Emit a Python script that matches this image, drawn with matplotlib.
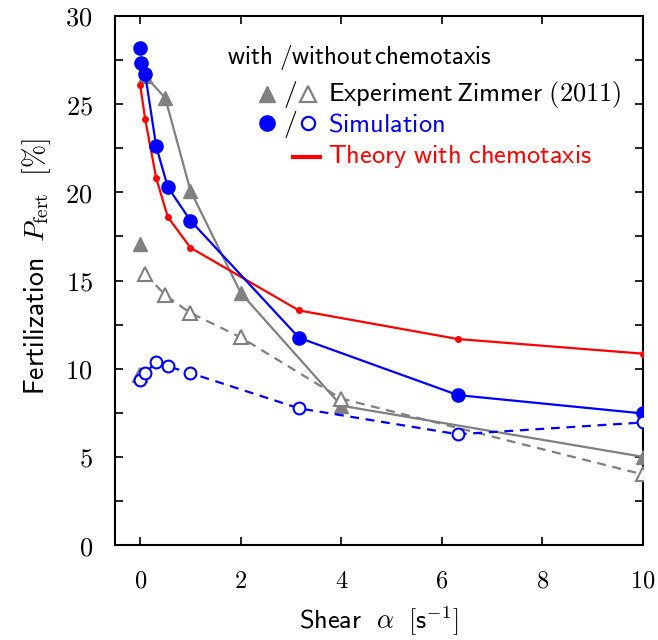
import matplotlib
matplotlib.use("Agg")
import matplotlib.pyplot as plt
import numpy as np
from matplotlib.ticker import MultipleLocator, FuncFormatter

plt.rcParams['mathtext.fontset'] = 'cm'
plt.rcParams['font.family'] = ['DejaVu Sans']

# Experiment Zimmer (2011), with chemotaxis (first point isolated, at zero shear)
exp_chem_x = [0.0, 0.1, 0.5, 1.0, 2.0, 4.0, 10.0]
exp_chem_y = [17.05, 26.6, 25.35, 20.1, 14.3, 7.9, 5.0]
# Experiment, without chemotaxis
exp_nochem_x = [0.0, 0.1, 0.5, 1.0, 2.0, 4.0, 10.0]
exp_nochem_y = [9.66, 15.38, 14.17, 13.16, 11.78, 8.3, 4.0]
# Simulation with chemotaxis
sim_chem_x = [0.0, 0.01, 0.1, 0.32, 0.55, 1.0, 3.16, 6.32, 10.0]
sim_chem_y = [28.2, 27.35, 26.7, 22.6, 20.3, 18.4, 11.75, 8.5, 7.46]
# Simulation without chemotaxis
sim_nochem_x = [0.0, 0.1, 0.32, 0.55, 1.0, 3.16, 6.32, 10.0]
sim_nochem_y = [9.38, 9.75, 10.38, 10.13, 9.75, 7.75, 6.28, 6.95]
# Theory with chemotaxis
theory_x = [0.0, 0.1, 0.32, 0.55, 1.0, 3.16, 6.32, 10.0]
theory_y = [26.1, 24.15, 20.8, 18.6, 16.86, 13.3, 11.68, 10.85]

GRAY = '#808080'
BLUE = '#0000ff'
RED = '#ff0000'

L, R, T, B = 115, 643, 16, 545
fig = plt.figure(figsize=(6.58, 6.40), dpi=100)
ax = fig.add_axes([L/658, 1-B/640, (R-L)/658, (B-T)/640])

lw = 1.6
# experiment with chemotaxis: line from second point onward
ax.plot(exp_chem_x[1:], exp_chem_y[1:], '-', color=GRAY, lw=lw, zorder=2)
ax.plot(exp_chem_x, exp_chem_y, '^', color=GRAY, ms=10, mec=GRAY, lw=0, zorder=3)
# experiment without chemotaxis
ax.plot(exp_nochem_x[1:], exp_nochem_y[1:], '--', color=GRAY, lw=lw, dashes=(4, 3), zorder=2)
ax.plot(exp_nochem_x, exp_nochem_y, '^', color=GRAY, mfc='white', mec=GRAY, mew=1.5, ms=10, lw=0, zorder=3)
# theory
ax.plot(theory_x, theory_y, '-', color=RED, lw=lw, marker='o', ms=4, zorder=4)
# simulation with chemotaxis
ax.plot(sim_chem_x[2:], sim_chem_y[2:], '-', color=BLUE, lw=lw, zorder=5)
ax.plot(sim_chem_x, sim_chem_y, 'o', color=BLUE, ms=9.5, lw=0, zorder=6)
# simulation without chemotaxis
ax.plot(sim_nochem_x[1:], sim_nochem_y[1:], '--', color=BLUE, lw=lw, dashes=(4, 3), zorder=5)
ax.plot(sim_nochem_x, sim_nochem_y, 'o', mfc='white', mec=BLUE, mew=1.5, ms=8.5, lw=0, zorder=6)

ax.set_xlim(-0.5, 10)
ax.set_ylim(0, 30)

ax.xaxis.set_major_locator(MultipleLocator(2))
ax.yaxis.set_major_locator(MultipleLocator(5))
ax.yaxis.set_minor_locator(MultipleLocator(2.5))
ax.tick_params(which='both', direction='in', top=True, right=True, length=6, width=1.2)
ax.tick_params(axis='x', pad=17, labelsize=17.5)
ax.tick_params(axis='y', pad=16, labelsize=19)
ax.xaxis.set_major_formatter(FuncFormatter(lambda v, p: r'$\mathsf{%d}$' % v))
ax.yaxis.set_major_formatter(FuncFormatter(lambda v, p: r'$%d$' % v))
for s in ax.spines.values():
    s.set_linewidth(1.5)

ax.set_xlabel(r'$\mathsf{Shear}\ \ \alpha\ \ [\mathsf{s}^{-1}]$', fontsize=19)
ax.xaxis.set_label_coords(0.5, -0.113)
ax.set_ylabel(r'$\mathsf{Fertilization}\ \ P_{\mathrm{fert}}\ \ [\%]$', fontsize=20)
ax.yaxis.set_label_coords(-0.117, 0.527)

# legend (drawn manually in axes coordinates)
def ax_xy(px, py):
    return ((px - L) / (R - L), (B - py) / (B - T))

tr = ax.transAxes
ax.text(*ax_xy(227, 58), r'$\mathsf{with}\ /\mathsf{without}\,\mathsf{chemotaxis}$', transform=tr,
        fontsize=18, va='center', ha='left')
# row 1
ax.plot(*ax_xy(266.5, 94), '^', color=GRAY, ms=12, transform=tr, clip_on=False)
ax.text(*ax_xy(290, 94), r'$/$', transform=tr, fontsize=20, va='center', ha='center')
ax.plot(*ax_xy(308, 94), '^', mfc='white', mec=GRAY, mew=1.6, ms=12, transform=tr, clip_on=False)
ax.text(*ax_xy(328, 95), r'$\mathsf{Experiment}\,\mathsf{Zimmer\ (2011)}$', transform=tr,
        fontsize=19, va='center', ha='left')
# row 2
ax.plot(*ax_xy(266.5, 123), 'o', color=BLUE, ms=11, transform=tr, clip_on=False)
ax.text(*ax_xy(290, 124), r'$/$', transform=tr, fontsize=20, va='center', ha='center')
ax.plot(*ax_xy(308, 123), 'o', mfc='white', mec=BLUE, mew=1.6, ms=9.5, transform=tr, clip_on=False)
ax.text(*ax_xy(328, 125), r'$\mathsf{Simulation}$', transform=tr, color=BLUE,
        fontsize=19, va='center', ha='left')
# row 3
x0, y0 = ax_xy(293, 156.5)
x1, _ = ax_xy(320, 156.5)
ax.plot([x0, x1], [y0, y0], '-', color=RED, lw=3, transform=tr, clip_on=False)
ax.text(*ax_xy(328, 156), r'$\mathsf{Theory\ with\ chemotaxis}$', transform=tr, color=RED,
        fontsize=19, va='center', ha='left')

fig.savefig('out.png', dpi=100)
